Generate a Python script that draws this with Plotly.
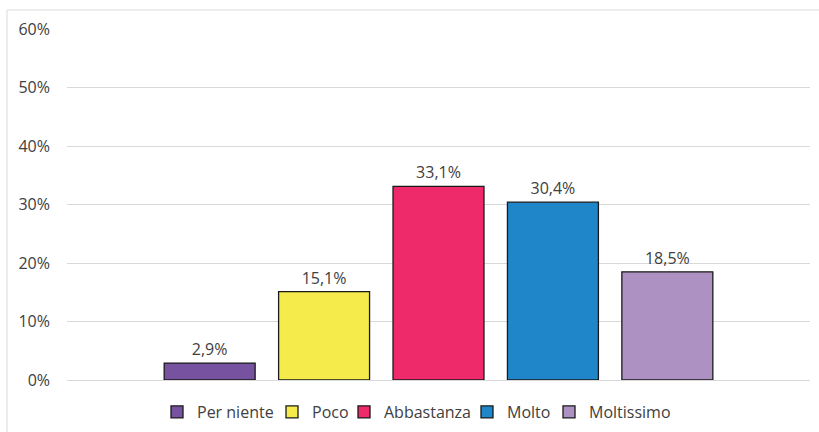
import plotly.graph_objects as go

categories = ["Per niente", "Poco", "Abbastanza", "Molto", "Moltissimo"]
values = [2.9, 15.1, 33.1, 30.4, 18.5]
colors = ["#7752A1", "#F5EB4B", "#EE2A6A", "#1F87C9", "#AD91C3"]
y_ticks = [0, 10, 20, 30, 40, 50, 60]
y_tick_labels = [f"{t}%" for t in y_ticks]

# left edge (px) of each legend entry
legend_x_px = [157, 272, 344, 467, 549]

FONT = "Open Sans, sans-serif"
FS = 16

fig = go.Figure()
legend_layouts = {}
for i, (name, v, c) in enumerate(zip(categories, values, colors)):
    lname = "legend" if i == 0 else f"legend{i + 1}"
    fig.add_trace(go.Bar(
        x=[""], y=[v], name=name, legend=lname,
        marker=dict(color=c, line=dict(color="#1a1a1a", width=1.3)),
        text=[f"{v:.1f}%".replace(".", ",")],
        textposition="outside",
        textfont=dict(family=FONT, size=FS, color="#404040"),
        cliponaxis=False,
    ))
    legend_layouts[lname] = dict(
        orientation="h", xref="container", x=legend_x_px[i] / 819, xanchor="left",
        yref="container", y=(432 - 412) / 432, yanchor="middle",
        font=dict(family=FONT, size=FS, color="#404040"),
        itemwidth=30, bgcolor="rgba(0,0,0,0)",
    )

fig.update_layout(
    width=819, height=432,
    margin=dict(l=67, r=9, t=29, b=52, autoexpand=False),
    paper_bgcolor="white", plot_bgcolor="white",
    barmode="group", bargap=0.23, bargroupgap=0.205,
    separators=",.",
    font=dict(family=FONT, size=FS, color="#404040"),
    showlegend=True,
    xaxis=dict(showticklabels=False, showgrid=False, zeroline=False,
               showline=False, automargin=False),
    yaxis=dict(range=[0, 60], tickvals=y_ticks, ticktext=y_tick_labels,
               showgrid=True, gridcolor="#d9d9d9", gridwidth=1,
               zeroline=True, zerolinecolor="#d9d9d9", zerolinewidth=1,
               showline=False, ticks="", ticklabelstandoff=16,
               automargin=False,
               tickfont=dict(family=FONT, size=FS, color="#404040")),
    shapes=[dict(type="rect", xref="paper", yref="paper",
                 x0=(7 - 67) / 743, x1=1.03, y0=-0.3, y1=(380 - 10) / 351,
                 line=dict(color="#d9d9d9", width=1), fillcolor="rgba(0,0,0,0)",
                 layer="below")],
    **legend_layouts,
)

fig.write_html("out.html", config={"displayModeBar": False},
               post_script="document.body.style.margin='0';")
